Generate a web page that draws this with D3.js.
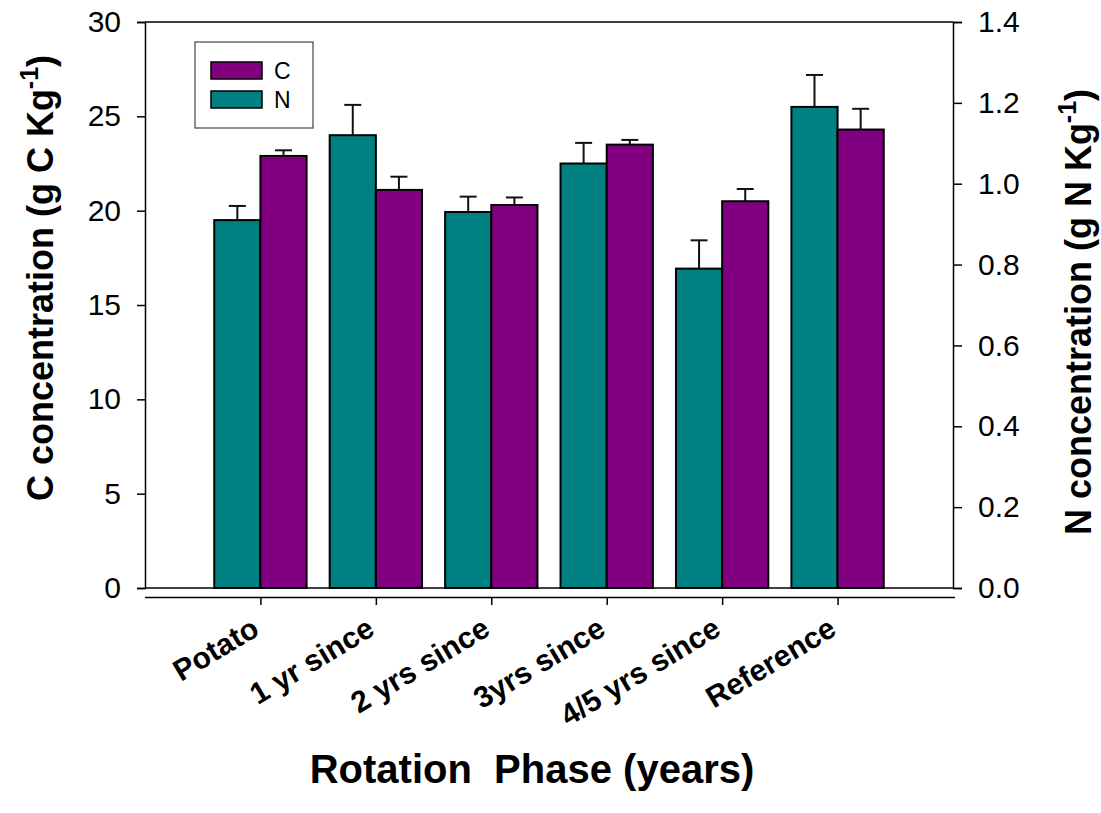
<!DOCTYPE html>
<html><head><meta charset="utf-8">
<script src="https://cdn.jsdelivr.net/npm/d3@7"></script>
<style>
body{margin:0;background:#fff;}
text{font-family:"Liberation Sans",Arial,sans-serif;}
</style></head>
<body><svg id="c" width="1101" height="813"></svg>
<script>
const categories = ["Potato","1 yr since","2 yrs since","3yrs since","4/5 yrs since","Reference"];
const cValues = [22.9, 21.1, 20.3, 23.5, 20.5, 24.3];
const cErrors = [0.3, 0.7, 0.4, 0.25, 0.65, 1.1];
const nValues = [0.91, 1.12, 0.93, 1.05, 0.79, 1.19];
const nErrors = [0.035, 0.075, 0.038, 0.051, 0.07, 0.079];
const leftTicks = [0,5,10,15,20,25,30];
const rightTicks = [0,0.2,0.4,0.6,0.8,1.0,1.2,1.4];
const seriesNames = ["C","N"];
const colors = {C:"#800080", N:"#008080"};

const svg = d3.select("#c");
const L=145, R=953, T=22, B=588, XA=597;
const x = d3.scaleLinear().domain([0, categories.length+1]).range([L, R]);
const yC = d3.scaleLinear().domain([0,30]).range([B, T]);
const yN = d3.scaleLinear().domain([0,1.4]).range([B, T]);
const bw = x(0.4)-x(0);
const FF = "Liberation Sans, Arial, sans-serif";

// bars
const g = svg.append("g");
function drawSeries(vals, errs, scale, color, offset){
  const grp = g.append("g");
  vals.forEach((v,i)=>{
    const cx = x(i+1);
    const x0 = offset<0 ? cx-bw : cx;
    const xc = x0 + bw/2;
    grp.append("line").attr("x1",xc).attr("x2",xc)
      .attr("y1",scale(v)).attr("y2",scale(v+errs[i]))
      .attr("stroke","#111").attr("stroke-width",2);
    grp.append("line").attr("x1",xc-8.5).attr("x2",xc+8.5)
      .attr("y1",scale(v+errs[i])).attr("y2",scale(v+errs[i]))
      .attr("stroke","#111").attr("stroke-width",2);
    grp.append("rect").attr("x",x0).attr("y",scale(v))
      .attr("width",bw).attr("height",scale(0)-scale(v))
      .attr("fill",color).attr("stroke","#000").attr("stroke-width",2);
  });
}
drawSeries(nValues, nErrors, yN, colors.N, -1);
drawSeries(cValues, cErrors, yC, colors.C, 1);

// frame
svg.append("line").attr("x1",L).attr("x2",R).attr("y1",T).attr("y2",T).attr("stroke","#000").attr("stroke-width",1.5);

// left axis
const la = svg.append("g").attr("transform",`translate(${L},0)`)
  .call(d3.axisLeft(yC).tickValues(leftTicks).tickSize(8).tickPadding(16).tickFormat(d3.format("d")));
la.select(".domain").attr("stroke-width",1.5);
la.selectAll(".tick line").attr("stroke-width",1.5);
la.selectAll("text").attr("font-size",30).attr("fill","#000").attr("font-family",FF);

// right axis
const ra = svg.append("g").attr("transform",`translate(${R},0)`)
  .call(d3.axisRight(yN).tickValues(rightTicks).tickSize(9).tickPadding(16).tickFormat(d3.format(".1f")));
ra.select(".domain").attr("stroke-width",1.5);
ra.selectAll(".tick line").attr("stroke-width",1.5);
ra.selectAll("text").attr("font-size",30).attr("fill","#000").attr("font-family",FF);

// zero line across
svg.append("line").attr("x1",L).attr("x2",R).attr("y1",B).attr("y2",B).attr("stroke","#000").attr("stroke-width",1.5);

// bottom axis
const ba = svg.append("g").attr("transform",`translate(0,${XA})`)
  .call(d3.axisBottom(x).tickValues(d3.range(1,categories.length+1)).tickSize(8).tickFormat(d=>categories[d-1]));
ba.select(".domain").attr("d",`M${L},0.5H${R+2}`).attr("stroke-width",1.5);
ba.selectAll(".tick line").attr("stroke-width",1.5);
ba.selectAll("text").attr("font-size",30).attr("font-weight","bold").attr("fill","#000")
  .attr("font-family",FF)
  .attr("text-anchor","end").attr("x",0).attr("y",0).attr("dy",0)
  .attr("transform","translate(0,37) rotate(-31)");

// legend
const lg = svg.append("g");
lg.append("rect").attr("x",195).attr("y",42).attr("width",118).attr("height",86)
  .attr("fill","#fff").attr("stroke","#444").attr("stroke-width",1.2);
seriesNames.forEach((s,i)=>{
  const yy = 62 + i*29;
  lg.append("rect").attr("x",211).attr("y",yy).attr("width",51).attr("height",17)
    .attr("fill",colors[s]).attr("stroke","#000").attr("stroke-width",1.5);
  lg.append("text").attr("x",274).attr("y",yy+17).attr("font-size",23).text(s);
});

// axis titles
svg.append("text").attr("transform","translate(53,278) rotate(-90)")
  .attr("text-anchor","middle").attr("font-size",36).attr("font-weight","bold")
  .html('C concentration (g C Kg<tspan dy="-15" font-size="25">-1</tspan><tspan dy="15">)</tspan>');
svg.append("text").attr("transform","translate(1091,312) rotate(-90)")
  .attr("text-anchor","middle").attr("font-size",36).attr("font-weight","bold")
  .html('N concentration (g N Kg<tspan dy="-15" font-size="25">-1</tspan><tspan dy="15">)</tspan>');
svg.append("text").attr("x",532).attr("y",783).attr("text-anchor","middle")
  .attr("font-size",40).attr("font-weight","bold").attr("xml:space","preserve")
  .text("Rotation  Phase (years)");
</script></body></html>
